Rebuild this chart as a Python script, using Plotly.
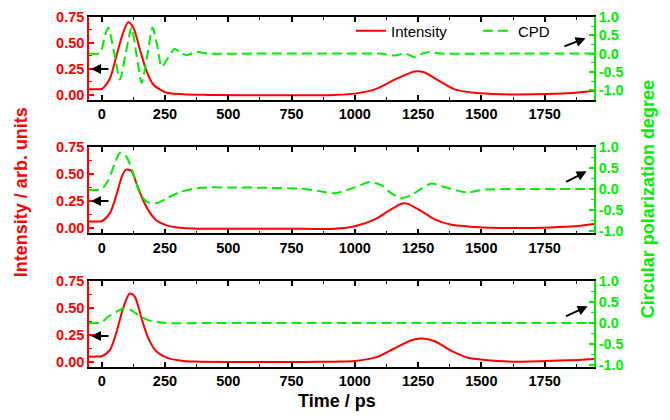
import plotly.graph_objects as go

# ---------------- data ----------------
# Top panel
int1_t = [-50, -20, 0, 15, 33, 59, 85, 105, 125, 151, 178, 204, 230, 257, 322, 420, 519, 700, 850, 921, 1000, 1079, 1158, 1237, 1276, 1316, 1395, 1474, 1579, 1711, 1842, 1945]
int1_v = [0.055, 0.055, 0.057, 0.09, 0.16, 0.38, 0.60, 0.70, 0.65, 0.44, 0.225, 0.10, 0.053, 0.02, 0.006, 0.0, -0.003, -0.004, -0.003, 0.0, 0.012, 0.053, 0.147, 0.225, 0.215, 0.16, 0.053, 0.02, 0.006, 0.006, 0.015, 0.04]
cpd1_t = [-50, -10, 0, 10, 26, 50, 72, 95, 118, 138, 158, 180, 201, 220, 237, 262, 289, 312, 336, 375, 420, 600, 900, 1100, 1158, 1200, 1237, 1265, 1290, 1340, 1500, 1945]
cpd1_v = [0.0, 0.0, 0.1, 0.4, 0.71, 0.0, -0.71, 0.0, 0.71, -0.05, -0.80, -0.05, 0.71, 0.2, -0.36, -0.12, 0.13, 0.02, -0.04, 0.05, 0.0, 0.0, 0.0, 0.0, -0.05, 0.0, -0.1, 0.0, 0.04, 0.0, 0.0, 0.0]

# Middle panel
int2_t = [-50, -20, 0, 33, 59, 79, 96, 118, 138, 165, 191, 217, 257, 322, 388, 600, 800, 921, 1000, 1079, 1132, 1184, 1204, 1263, 1316, 1382, 1474, 1632, 1776, 1869, 1945]
int2_v = [0.06, 0.06, 0.063, 0.14, 0.31, 0.47, 0.54, 0.525, 0.41, 0.25, 0.14, 0.07, 0.025, 0.0, -0.006, -0.007, -0.007, -0.006, 0.016, 0.08, 0.156, 0.225, 0.228, 0.156, 0.08, 0.03, 0.01, 0.0, 0.006, 0.016, 0.037]
cpd2_t = [-50, -20, 0, 26, 52, 72, 98, 125, 151, 178, 217, 257, 309, 388, 500, 650, 783, 862, 921, 1000, 1058, 1105, 1145, 1184, 1224, 1263, 1303, 1355, 1408, 1447, 1513, 1645, 1945]
cpd2_v = [-0.02, -0.02, 0.0, 0.21, 0.61, 0.86, 0.76, 0.37, -0.1, -0.30, -0.33, -0.22, -0.07, 0.03, 0.04, 0.03, 0.01, -0.05, -0.1, 0.04, 0.17, 0.09, -0.1, -0.21, -0.14, 0.01, 0.13, 0.05, -0.04, -0.08, -0.01, 0.0, 0.0]

# Bottom panel
int3_t = [-50, -20, 0, 33, 59, 85, 111, 130, 157, 184, 217, 257, 322, 388, 600, 800, 921, 1000, 1092, 1158, 1224, 1266, 1316, 1382, 1447, 1513, 1645, 1842, 1945]
int3_v = [0.047, 0.047, 0.05, 0.11, 0.28, 0.50, 0.635, 0.61, 0.41, 0.22, 0.094, 0.037, 0.006, 0.0, -0.003, -0.003, 0.0, 0.006, 0.047, 0.125, 0.2, 0.215, 0.19, 0.1, 0.037, 0.016, 0.0, 0.012, 0.025]
cpd3_t = [-50, -20, 0, 26, 59, 85, 112, 145, 184, 217, 257, 400, 1000, 1945]
cpd3_v = [0.0, 0.0, 0.02, 0.15, 0.27, 0.35, 0.32, 0.19, 0.07, 0.03, 0.0, 0.0, 0.0, 0.0]

x_ticks = [0, 250, 500, 750, 1000, 1250, 1500, 1750]
left_ticks = [0.0, 0.25, 0.5, 0.75]
left_labels = ["0.00", "0.25", "0.50", "0.75"]
right_ticks = [-1.0, -0.5, 0.0, 0.5, 1.0]
right_labels = ["-1.0", "-0.5", "0.0", "0.5", "1.0"]

# ---------------- figure ----------------
RED = "#ff0000"
GREEN = "#00ee00"
FONT = "Liberation Sans"

fig = go.Figure()

panels = [
    (int1_t, int1_v, cpd1_t, cpd1_v, "x", "y", "y2", True),
    (int2_t, int2_v, cpd2_t, cpd2_v, "x2", "y3", "y4", False),
    (int3_t, int3_v, cpd3_t, cpd3_v, "x3", "y5", "y6", False),
]
for it, iv, ct, cv, xa, ya, ya2, show in panels:
    fig.add_trace(go.Scatter(x=ct, y=cv, mode="lines", name="CPD", showlegend=False,
                             line=dict(color=GREEN, width=2, dash="10px,5px", shape="spline", smoothing=0.7),
                             xaxis=xa, yaxis=ya2))
    fig.add_trace(go.Scatter(x=it, y=iv, mode="lines", name="Intensity", showlegend=show,
                             line=dict(color=RED, width=2, shape="spline", smoothing=0.8),
                             xaxis=xa, yaxis=ya))
# legend proxy for CPD (shown after Intensity)
fig.add_trace(go.Scatter(x=[None], y=[None], mode="lines", name="CPD", showlegend=True,
                         line=dict(color=GREEN, width=2, dash="10px,5px"), xaxis="x", yaxis="y2"))

tickfont = dict(family=FONT, size=14.5, weight="bold")
xrange_ = [-50, 1945]

# page offset (browser body margin) compensation
OFF = 8
W, H = 670, 420
# desired plot-area edges in page pixels
PL, PR, PT, PB = 89, 594, 17, 366.7
L, R, T, B = PL - OFF, W - (PR - OFF), PT - OFF, H - (PB - OFF)


def ydom(top_px, bot_px):
    return [1 - (bot_px - PT) / (PB - PT), 1 - (top_px - PT) / (PB - PT)]


domains = [ydom(17, 100), ydom(146.7, 233.3), ydom(281, 366.7)]
domains[0][1] = 1.0
domains[2][0] = 0.0
right_ranges = [[-1.27, 1.0], [-1.05, 1.0], [-1.05, 1.0]]
xnames = ["xaxis", "xaxis2", "xaxis3"]
ynames = [("yaxis", "yaxis2"), ("yaxis3", "yaxis4"), ("yaxis5", "yaxis6")]
yids = [("y", "y2"), ("y3", "y4"), ("y5", "y6")]
xids = ["x", "x2", "x3"]

layout = {}
for i in range(3):
    layout[xnames[i]] = dict(
        domain=[0, 1], anchor=yids[i][0], range=xrange_, showgrid=False, zeroline=False,
        showline=True, linecolor="black", linewidth=1.5, mirror="ticks",
        ticks="inside", ticklen=5, tickwidth=1.5, tickcolor="black",
        tickvals=x_ticks, tickfont=dict(tickfont, color="black"), automargin=False,
        ticklabeloverflow="allow",
        minor=dict(ticks="inside", ticklen=3, tickwidth=1.2, tickcolor="black", dtick=125, tick0=125),
    )
    layout[ynames[i][0]] = dict(
        domain=domains[i], anchor=xids[i], range=[-0.05, 0.7501], showgrid=False, zeroline=False,
        showline=True, linecolor=RED, linewidth=1.5, ticks="inside", ticklen=5, tickwidth=1.5,
        tickcolor=RED, tickvals=left_ticks, ticktext=left_labels, automargin=False,
        tickfont=dict(tickfont, color=RED), ticklabeloverflow="allow",
        minor=dict(ticks="inside", ticklen=3, tickwidth=1.2, tickcolor=RED, dtick=0.125, tick0=0),
    )
    layout[ynames[i][1]] = dict(
        overlaying=yids[i][0], side="right", anchor=xids[i], range=right_ranges[i],
        showgrid=False, zeroline=False, showline=True, linecolor=GREEN, linewidth=1.5,
        ticks="inside", ticklen=5, tickwidth=1.5, tickcolor=GREEN, automargin=False,
        tickvals=right_ticks, ticktext=right_labels, tickfont=dict(tickfont, color=GREEN),
        ticklabeloverflow="allow",
        minor=dict(ticks="inside", ticklen=3, tickwidth=1.2, tickcolor=GREEN, dtick=0.25, tick0=0),
    )

fig.update_layout(**layout)

# arrows
anns = []
left_arrow_y = [0.25, 0.25, 0.24]
right_arrow = [((1822, 0.18), (1912, 0.42)), ((1829, 0.15), (1916, 0.42)), ((1829, 0.15), (1920, 0.40))]
for i in range(3):
    anns.append(dict(x=-42, y=left_arrow_y[i], ax=33, ay=left_arrow_y[i], xref=xids[i], yref=yids[i][0],
                     axref=xids[i], ayref=yids[i][0], showarrow=True, arrowhead=2, arrowsize=1,
                     arrowwidth=2, arrowcolor="black", text=""))
    (tx, ty), (hx, hy) = right_arrow[i]
    anns.append(dict(x=hx, y=hy, ax=tx, ay=ty, xref=xids[i], yref=yids[i][1],
                     axref=xids[i], ayref=yids[i][1], showarrow=True, arrowhead=2, arrowsize=1,
                     arrowwidth=2, arrowcolor="black", text=""))

# axis titles (positions given in page pixels, converted to paper coordinates)
titles = [
    ("Intensity / arb. units", 21, 192, -90, RED),
    ("Circular polarization degree", 648, 199, -90, GREEN),
    ("Time / ps", 337, 401, 0, "black"),
]
for txt, px, py, ang, col in titles:
    anns.append(dict(text=txt, x=(px - PL) / (PR - PL), y=1 - (py - PT) / (PB - PT),
                     xref="paper", yref="paper", xanchor="center", yanchor="middle",
                     showarrow=False, textangle=ang,
                     font=dict(family=FONT, size=18, color=col, weight="bold")))

fig.update_layout(
    annotations=anns,
    width=W, height=H,
    margin=dict(l=L, r=R, t=T, b=B, autoexpand=False),
    paper_bgcolor="white", plot_bgcolor="white",
    showlegend=True,
    legend=dict(orientation="h", x=(351 - PL) / (PR - PL), y=1 - (31 - PT) / (PB - PT),
                xanchor="left", yanchor="middle", bgcolor="rgba(0,0,0,0)",
                font=dict(family=FONT, size=15, color="black"), entrywidth=82, entrywidthmode="pixels",
                itemwidth=30, tracegroupgap=0),
)

fig.write_html("out.html")
